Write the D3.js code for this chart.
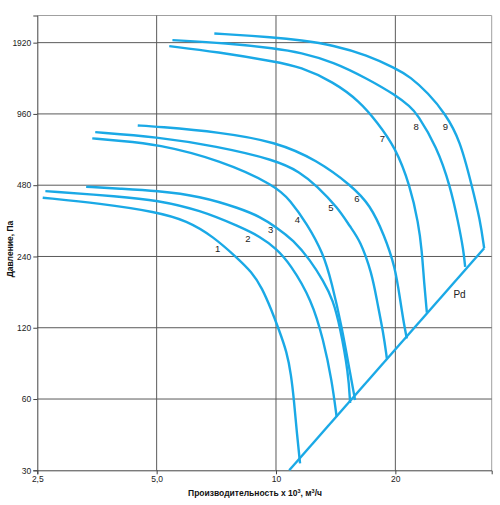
<!DOCTYPE html>
<html>
<head>
<meta charset="utf-8">
<script src="https://cdn.jsdelivr.net/npm/d3@7/dist/d3.min.js"></script>
<style>
  html, body { margin: 0; padding: 0; background: #fff; }
  svg { display: block; font-family: "Liberation Sans", Arial, sans-serif; }
</style>
</head>
<body>
<svg id="chart" width="500" height="505"></svg>
<script>
// ---- data (flow x10^3 m3/h, pressure Pa) ----
const xTicks = [2.5, 5, 10, 20];
const xTickLabels = ["2,5", "5,0", "10", "20"];
const yTicks = [30, 60, 120, 240, 480, 960, 1920];
const yTickLabels = ["30", "60", "120", "240", "480", "960", "1920"];

const curve1Q = [2.58, 3.60, 5.00, 5.96, 6.95, 7.93, 8.70, 9.22, 9.72, 10.18, 10.65, 10.92, 11.10, 11.27, 11.50];
const curve1P = [425, 402, 370, 340, 291, 239, 206, 176.5, 143.9, 117.3, 94.8, 75.8, 59.4, 44.4, 32.1];
const curve2Q = [2.62, 4.04, 5.00, 6.43, 8.12, 9.12, 9.99, 10.85, 12.31, 13.17, 13.83, 14.22];
const curve2P = [453, 430, 415, 377, 320, 291, 260, 224, 157, 106.5, 72, 50.5];
const curve3Q = [3.32, 4.04, 5.00, 6.43, 8.12, 9.12, 9.99, 11.06, 12.19, 13.17, 13.93, 14.51, 15.23, 15.38];
const curve3P = [473, 464, 455, 432, 383, 353, 320, 281.5, 232, 189, 157, 121, 77, 57.7];
const curve4Q = [3.44, 4.04, 5.00, 7.23, 10.0, 10.85, 11.96, 13.17, 13.81, 14.66, 15.38, 15.83];
const curve4P = [757, 739, 716, 613, 477, 415, 331, 247, 187, 121, 77, 59.4];
const curve5Q = [3.50, 5.00, 7.06, 10.0, 11.5, 12.68, 14.35, 15.38, 16.3, 17.45, 17.96, 18.66, 19.04];
const curve5P = [804, 768, 702, 613, 545, 477, 384, 320, 281, 204, 157, 114, 89];
const curve6Q = [4.48, 5.0, 7.23, 10.0, 12.68, 15.53, 17.28, 18.74, 19.98, 20.57, 21.05, 21.38];
const curve6P = [858, 849, 804, 732, 613, 477, 396, 296, 217, 157, 123, 108];
const curve7Q = [5.38, 7.09, 10.0, 11.50, 13.96, 16.30, 17.96, 19.98, 21.8, 22.87, 23.33, 23.64, 24.02];
const curve7P = [1856, 1756, 1593, 1518, 1312, 1080, 889, 697, 477, 331, 255, 185, 139];
const curve8Q = [5.48, 7.51, 10.0, 11.50, 13.96, 16.95, 20.06, 21.80, 22.66, 25.45, 27.5, 28.86, 29.71, 30.0];
const curve8P = [1967, 1911, 1815, 1746, 1593, 1356, 1152, 1029, 965, 697, 477, 331, 255, 217];
const curve9Q = [6.99, 10.0, 11.50, 13.96, 16.95, 20.06, 21.80, 24.2, 26.7, 29.14, 31.19, 32.73, 33.5];
const curve9P = [2100, 2019, 1967, 1874, 1700, 1494, 1377, 1175, 965, 744, 477, 342, 260];
const pdQ = [10.8, 33.5];
const pdP = [30, 260];

const curveNames = ["1", "2", "3", "4", "5", "6", "7", "8", "9"];
const labelQ = [7.13, 8.49, 9.70, 11.32, 13.75, 15.99, 18.56, 22.57, 26.76];
const labelP = [259, 287, 313, 343, 387, 422, 757, 853, 853];
const pdLabel = "Pd";
const pdLabelQ = 29.03;
const pdLabelP = 166;

const xTitle = "Производительность x 10";
const yTitle = "Давление, Па";

// ---- layout ----
const W = 500, H = 505;
const margin = { left: 37.3, right: 8.3, top: 15.5, bottom: 34.7 };
const svg = d3.select("#chart");

const x = d3.scaleLog().base(2).domain([2.5, 35]).range([margin.left, W - margin.right]);
const y = d3.scaleLog().base(2).domain([30, 2500]).range([H - margin.bottom, margin.top]);

const gridColor = "#5a5a5a";
const blue = "#1aa9e6";

// frame (top/right lighter)
svg.append("line").attr("x1", x(2.5)).attr("x2", x(35)).attr("y1", y(2500)).attr("y2", y(2500))
  .attr("stroke", "#a0a0a0").attr("stroke-width", 1);
svg.append("line").attr("x1", x(35)).attr("x2", x(35)).attr("y1", y(2500)).attr("y2", y(30))
  .attr("stroke", "#a0a0a0").attr("stroke-width", 1);

// gridlines
svg.append("g").selectAll("line").data(xTicks.slice(1)).join("line")
  .attr("x1", d => x(d)).attr("x2", d => x(d)).attr("y1", y(30)).attr("y2", y(2500))
  .attr("stroke", gridColor).attr("stroke-width", 1);
svg.append("g").selectAll("line").data(yTicks.slice(1)).join("line")
  .attr("x1", x(2.5)).attr("x2", x(35)).attr("y1", d => y(d)).attr("y2", d => y(d))
  .attr("stroke", gridColor).attr("stroke-width", 1);

// axes
const xAxis = d3.axisBottom(x).tickValues(xTicks).tickFormat((d, i) => xTickLabels[i]).tickSizeOuter(0).tickSize(4).tickPadding(2);
const gx = svg.append("g").attr("transform", `translate(0,${y(30)})`).call(xAxis);
gx.select(".domain").attr("stroke", "#444");
gx.selectAll(".tick line").attr("stroke", "#444");
gx.selectAll("text").attr("font-size", 8.5).attr("fill", "#222").attr("font-family", "Liberation Sans, Arial, sans-serif");

const yAxis = d3.axisLeft(y).tickValues(yTicks).tickFormat((d, i) => yTickLabels[i]).tickSizeOuter(0).tickSize(4).tickPadding(2);
const gy = svg.append("g").attr("transform", `translate(${x(2.5)},0)`).call(yAxis);
gy.select(".domain").attr("stroke", "#444");
gy.selectAll(".tick line").attr("stroke", "#444");
gy.selectAll("text").attr("font-size", 8.5).attr("fill", "#222").attr("font-family", "Liberation Sans, Arial, sans-serif");

// curves
const curves = [
  [curve1Q, curve1P], [curve2Q, curve2P], [curve3Q, curve3P],
  [curve4Q, curve4P], [curve5Q, curve5P], [curve6Q, curve6P],
  [curve7Q, curve7P], [curve8Q, curve8P], [curve9Q, curve9P]
];
const line = d3.line().x(d => x(d[0])).y(d => y(d[1])).curve(d3.curveBasis);
svg.append("g").selectAll("path").data(curves).join("path")
  .attr("d", c => line(c[0].map((q, i) => [q, c[1][i]])))
  .attr("fill", "none").attr("stroke", blue).attr("stroke-width", 2.4).attr("stroke-linecap", "butt");

// Pd line
svg.append("path")
  .attr("d", d3.line().x(d => x(d[0])).y(d => y(d[1]))(pdQ.map((q, i) => [q, pdP[i]])))
  .attr("fill", "none").attr("stroke", blue).attr("stroke-width", 2.4);

// curve labels
svg.append("g").selectAll("text").data(curveNames).join("text")
  .attr("x", (d, i) => x(labelQ[i])).attr("y", (d, i) => y(labelP[i]))
  .attr("text-anchor", "middle").attr("dominant-baseline", "central")
  .attr("font-size", 9.5).attr("fill", "#222").text(d => d);
svg.append("text").attr("x", x(pdLabelQ)).attr("y", y(pdLabelP))
  .attr("text-anchor", "middle").attr("dominant-baseline", "central")
  .attr("font-size", 10).attr("fill", "#222").text(pdLabel);

// axis titles
const xt = svg.append("text").attr("x", 255).attr("y", 496)
  .attr("text-anchor", "middle").attr("font-size", 8.5).attr("font-weight", "bold").attr("fill", "#111");
xt.append("tspan").text(xTitle);
xt.append("tspan").attr("font-size", 5.5).attr("dy", -3.5).text("3");
xt.append("tspan").attr("dy", 3.5).text(", м");
xt.append("tspan").attr("font-size", 5.5).attr("dy", -3.5).text("3");
xt.append("tspan").attr("dy", 3.5).text("/ч");

svg.append("text").attr("transform", `translate(13,249) rotate(-90)`)
  .attr("text-anchor", "middle").attr("font-size", 8.5).attr("font-weight", "bold").attr("fill", "#111")
  .text(yTitle);
</script>
</body>
</html>
